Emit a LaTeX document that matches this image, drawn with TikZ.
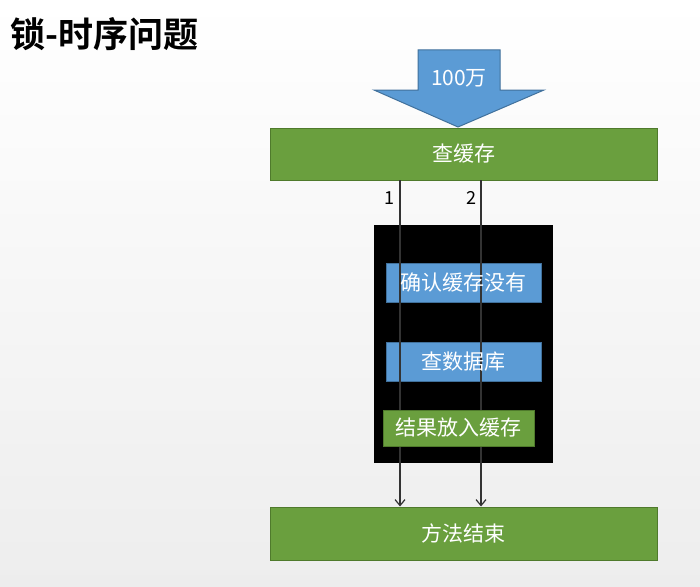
\documentclass[tikz,border=0pt]{standalone}
\usepackage{fontspec}
\setmainfont{Noto Sans CJK SC}[BoldFont={* Bold}]
\usetikzlibrary{arrows.meta}
\definecolor{gfill}{HTML}{6A9F3E}
\definecolor{gline}{HTML}{4F7A2C}
\definecolor{bfill}{HTML}{5B9BD5}
\definecolor{bline}{HTML}{41719C}
\definecolor{lncol}{HTML}{333333}
\begin{document}
\begin{tikzpicture}[x=1pt,y=-1pt,
  gbox/.style={draw=gline,line width=1pt,fill=gfill,text=white,font=\fontsize{21}{22}\selectfont,inner sep=0pt},
  bbox/.style={draw=bline,line width=1pt,fill=bfill,text=white,font=\fontsize{21}{22}\selectfont,inner sep=0pt},
  flow/.style={draw=lncol,line width=1.2pt,-{Straight Barb[length=6pt,width=10pt,line width=1.2pt]}},
  lbl/.style={font=\fontsize{18}{19}\selectfont,text=black}]
\shade[top color=white,bottom color=black!7] (0,0) rectangle (700,586);
\useasboundingbox (0,0) rectangle (700,586);
\node[anchor=west,font=\fontsize{35}{36}\selectfont\bfseries] (title) at (7,34) {锁-时序问题};
% black box
\node[fill=black,minimum width=179pt,minimum height=238pt,inner sep=0pt] (blk) at (463.5,344) {};
% main boxes
\node[gbox,minimum width=387pt,minimum height=52pt] (cache) at (463.5,154) {查缓存};
\node[gbox,minimum width=387pt,minimum height=53pt] (endm) at (463.5,533.5) {方法结束};
% big arrow
\filldraw[fill=bfill,draw=bline,line width=1pt] (418,50) -- (500,50) -- (500,90) -- (544,90) -- (458,127) -- (374,90) -- (418,90) -- cycle;
\node[text=white,font=\fontsize{21}{22}\selectfont] (num) at (459,78) {100万};
% inner boxes
\node[bbox,minimum width=155pt,minimum height=39pt] (chk) at (463.5,282.5) {};
\node[bbox,minimum width=155pt,minimum height=39pt] (db) at (463.5,361.5) {};
% flows
\coordinate (s1) at (400,180);
\coordinate (s2) at (481,180);
\draw[flow] (s1) -- (s1 |- endm.north);
\draw[flow] (s2) -- (s2 |- endm.north);
\node[lbl] (n1) at (389,198) {1};
\node[lbl] (n2) at (471,198) {2};
\node[text=white,font=\fontsize{21}{22}\selectfont] (chkt) at (chk) {确认缓存没有};
\node[text=white,font=\fontsize{21}{22}\selectfont] (dbt) at (db) {查数据库};
\node[gbox,minimum width=151pt,minimum height=36pt] (put) at (458.5,428) {结果放入缓存};
\end{tikzpicture}
\end{document}
